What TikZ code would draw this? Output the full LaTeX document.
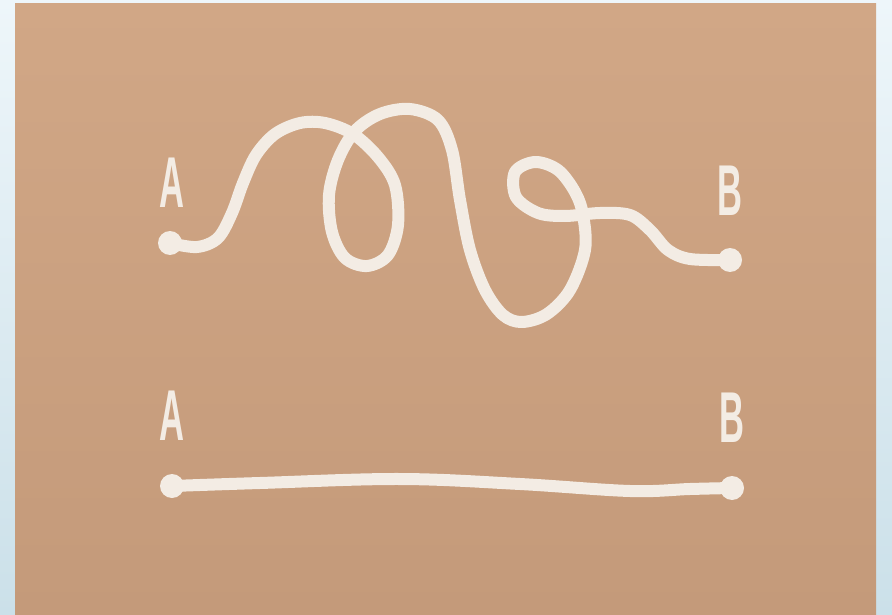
\documentclass[tikz,border=0pt]{standalone}
\usepackage{fontspec}
\setmainfont{Liberation Sans}
\usetikzlibrary{positioning}

\definecolor{skyhi}{RGB}{238,246,250}
\definecolor{skylo}{RGB}{203,224,233}
\definecolor{cardhi}{RGB}{209,167,134}
\definecolor{cardlo}{RGB}{196,154,122}
\definecolor{chalk}{RGB}{243,236,228}

\begin{document}
\begin{tikzpicture}[x=1pt, y=-1pt,
    endpoint/.style={circle, fill=chalk, minimum size=24pt, inner sep=0pt},
    pointlabel/.style={text=chalk, inner sep=0pt, xscale=0.48, font=\bfseries\fontsize{72}{72}\selectfont},
    cord/.style={draw=chalk, line width=12pt, line cap=round, line join=round}]
                % Backdrop and card
                \shade[top color=skyhi, bottom color=skylo] (0,0) rectangle (892,615);
                \shade[top color=cardhi, bottom color=cardlo] (15,4) rectangle (876,615);
                \useasboundingbox (0,0) rectangle (892,615);

                % Winding path from A to B
                \node[pointlabel] (labA1) at (172,183) {A};
                \node[pointlabel] (labB1) at (730,191) {B};
                \node[endpoint] (dotA1) at (170,243) {};
                \node[endpoint] (dotB1) at (730,260) {};

                \draw[cord] plot[smooth, tension=0.55] coordinates {
                    (dotA1.center) (197,247) (218,238) (232,213) (243,183) (256,155)
                    (275,134) (300,123) (325,123) (353,134) (378,157) (395,185)
                    (398,225) (388,255) (367,266) (345,258) (332,232) (329,195)
                    (338,160) (355,131) (380,114) (410,109) (438,120) (452,150)
                    (460,200) (470,250) (485,290) (503,315) (522,322) (547,314)
                    (570,290) (585,250) (583,215) (575,192) (558,170) (535,162)
                    (515,172) (516,197) (538,213) (565,216) (600,213) (630,215)
                    (650,230) (668,250) (690,259) (dotB1.center)};

                % Straight path from A to B
                \node[pointlabel] (labA2) at (172,416) {A};
                \node[pointlabel] (labB2) at (732,418) {B};
                \node[endpoint] (dotA2) at (172,486) {};
                \node[endpoint] (dotB2) at (732,488) {};

                \draw[cord] plot[smooth, tension=0.6] coordinates {
                    (dotA2.center) (260,483) (400,479) (520,484) (630,491)
                    (690,489) (dotB2.center)};
\end{tikzpicture}
\end{document}
